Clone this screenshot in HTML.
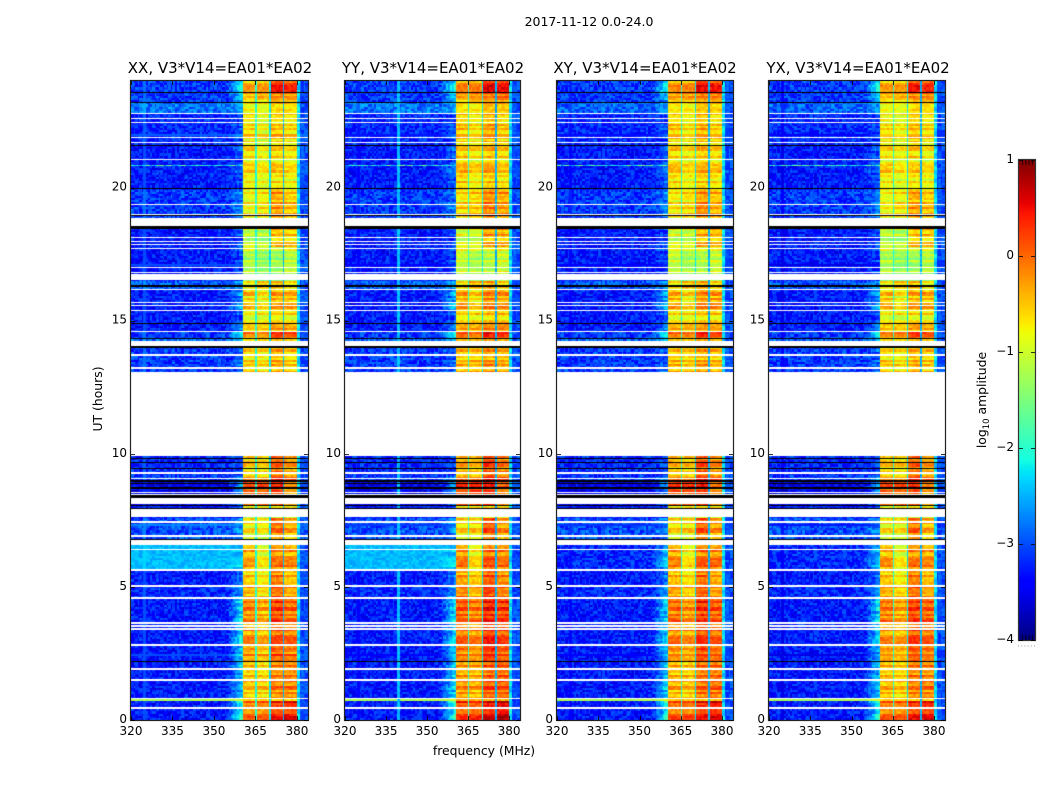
<!DOCTYPE html>
<html lang="en">
<head>
<meta charset="utf-8">
<title>2017-11-12 0.0-24.0 dynamic spectra</title>
<style>
  html, body { margin: 0; padding: 0; background: #fff; }
  #figure { position: relative; width: 1050px; height: 800px; overflow: hidden; background: #fff; }
  #figure canvas { position: absolute; display: block; }
  #overlay { position: absolute; left: 0; top: 0; }
  #overlay text { font-family: "DejaVu Sans", "Liberation Sans", sans-serif; fill: #000; }
  .tick { font-size: 12px; }
  .title { font-size: 15px; }
  .label { font-size: 12.4px; }
</style>
</head>
<body>
<div id="figure">
  <canvas id="colorbar-canvas"></canvas>
  <svg id="overlay" width="1050" height="800" xmlns="http://www.w3.org/2000/svg">
    <text x="589" y="26" text-anchor="middle" class="label" style="font-size:12.5px">2017-11-12 0.0-24.0</text>
    <text x="220" y="73" text-anchor="middle" class="title">XX, V3*V14=EA01*EA02</text>
    <text x="433" y="73" text-anchor="middle" class="title">YY, V3*V14=EA01*EA02</text>
    <text x="645" y="73" text-anchor="middle" class="title">XY, V3*V14=EA01*EA02</text>
    <text x="858" y="73" text-anchor="middle" class="title">YX, V3*V14=EA01*EA02</text>
    <text x="484" y="755" text-anchor="middle" class="label">frequency (MHz)</text>
    <text transform="translate(102,399) rotate(-90)" text-anchor="middle" class="label">UT (hours)</text>
    <text transform="translate(986,400) rotate(-90)" text-anchor="middle" class="label">log<tspan dy="3" style="font-size:8.5px">10</tspan><tspan dy="-3"> amplitude</tspan></text>
  </svg>
</div>
<script>
// ---- chart data (log10 amplitude) ----
const panelNames = ['xx', 'yy', 'xy', 'yx'];
const xTicks = [320, 335, 350, 365, 380];
const yTicks = [0, 5, 10, 15, 20];
const colorbarTicks = [-4, -3, -2, -1, 0, 1];

// Upper UT edge of each observing segment (each runs down to the next edge)
const segmentTop = [24, 23.58, 23.19, 22.8, 21.58, 19.96, 18.46, 17.8, 16.51, 16.17, 15.38, 14.9, 14.6, 14.33, 14, 9.91, 9.23, 8.97, 8.11, 7.62, 6.57, 5.65, 5.03, 4.58, 3.64, 2.81, 2.18, 0.78, 0.72];
const backgroundParallel = [-3.1, -3.1, -2.8, -3.2, -3.28, -3.1, -3.28, -3.28, -2.9, -3.28, -3.28, -3.28, -3.1, -2.85, -3.1, -3.2, -3.1, -3.45, -3.28, -3, -2.45, -3.28, -3.2, -3.28, -3.28, -3.28, -3.28, -1.2, -3.28];
const backgroundCross = [-3.1, -3.1, -2.9, -3.2, -3.28, -3.1, -3.28, -3.28, -2.95, -3.28, -3.28, -3.28, -3.1, -2.9, -3.1, -3.2, -3.1, -3.45, -3.28, -3, -3.2, -3.28, -3.2, -3.28, -3.28, -3.28, -3.28, -1.2, -3.28];
const shoulderPeak = [-2.1, -2.3, -2.5, -3, -2.9, -2.7, -3, -3, -2.6, -2.5, -2.9, -2.8, -2, -2.6, -2.9, -3.1, -2.6, -2.6, -3.1, -2.7, -2.4, -2.7, -2.5, -2.2, -2.2, -2.3, -2.3, -1.2, -1.9];
const bandA = [-0.4, -0.45, -0.75, -0.7, -0.72, -0.8, -1.1, -1.15, -0.85, -0.55, -0.8, -0.7, -0.1, -0.85, -0.62, -0.62, -0.3, 0, -0.95, -0.8, -0.4, -0.5, -0.35, -0.18, -0.28, -0.28, -0.52, -0.9, -0.05];
const bandB = [-0.4, -0.4, -0.8, -0.85, -0.85, -0.72, -1.15, -1.3, -0.65, -0.8, -0.8, -0.72, -0.15, -0.85, -0.68, -0.7, -0.4, 0, -0.9, -0.8, -0.85, -0.7, -0.55, -0.38, -0.42, -0.4, -0.6, -0.9, -0.05];
const bandC = [0.3, -0.2, -0.55, -0.55, -0.65, -0.32, -0.5, -1.25, -0.55, -0.4, -0.65, -0.5, 0.3, -0.7, -0.45, -0.1, 0.25, 0.15, -0.85, -0.1, -0.2, -0.1, 0.02, 0.12, 0.08, 0.08, -0.18, -0.9, 0.3];
const bandD = [0.2, -0.2, -0.6, -0.7, -0.78, -0.5, -0.55, -1.1, -0.8, -0.45, -0.7, -0.55, 0.15, -0.8, -0.6, -0.4, -0.05, -0.35, -0.8, -0.45, -0.3, -0.4, -0.3, -0.05, -0.08, -0.08, -0.18, -0.9, 0.4];

// Overall brightness change per polarisation, for the day and the early-UT part
const panelBandOffset = [0, 0.15, 0.1, 0];
const panelEarlyOffset = [0, 0.22, 0.1, 0.03];

// Frequency structure in MHz
const bandEdges = [[360.5, 365], [365.5, 370], [370.5, 375], [375.5, 380]];
const gapLevels = [-2.05, -2.25, -2.5];
const shoulderStartMHz = 354.5;
const bandEdgeMHz = 360.5;
const upperEdgeLevel = -2.3;
const upperFloorLevel = -3;
const rfiChannels = [[], [339.5], [], []];
const rfiLevel = -2.45;

// Flagged time ranges [from, to] in UT hours
const whiteFlags = [[22.76, 22.81], [22.57, 22.62], [22.42, 22.47], [21.86, 21.91], [21.67, 21.72], [21.03, 21.08], [19.34, 19.39], [18.97, 19.01], [18.57, 18.87], [18.1, 18.15], [17.95, 18], [17.84, 17.89], [17.69, 17.74], [16.98, 17.03], [16.79, 16.83], [16.51, 16.74], [16.15, 16.2], [15.66, 15.7], [15.55, 15.59], [15.36, 15.41], [14.58, 14.62], [14.03, 14.22], [13.68, 13.73], [13.19, 13.24], [9.91, 13.06], [9.23, 9.31], [9.06, 9.1], [8.54, 8.58], [8.46, 8.5], [8.11, 8.33], [7.62, 7.92], [7.41, 7.46], [6.88, 6.93], [6.57, 6.79], [6.4, 6.44], [5.59, 5.67], [5.01, 5.06], [4.56, 4.61], [3.62, 3.67], [3.51, 3.56], [3.39, 3.44], [2.79, 2.84], [1.88, 1.94], [1.47, 1.53], [0.78, 0.83], [0.42, 0.48]];
const blackFlags = [[23.56, 23.6], [23.16, 23.22], [21.55, 21.61], [19.94, 19.98], [18.93, 18.97], [18.46, 18.57], [16.26, 16.32], [14.88, 14.92], [14.3, 14.36], [13.98, 14.03], [9.81, 9.85], [9.66, 9.7], [9.44, 9.48], [8.94, 9], [8.85, 8.89], [8.68, 8.74], [8.33, 8.44], [8.05, 8.09], [7.92, 7.95], [6.77, 6.81], [2.16, 2.2]];

// Thin interference rows [from, to] in UT hours, level is log10 amplitude
const interferenceRows = [[20.82, 20.86]];
const interferenceLevel = -2.05;

// Estimated cell-to-cell scatter, repeated across the grid
const cellScatter = [0.12, -0.28, 0.31, -0.05, -0.34, 0.2, 0.02, -0.17, 0.37, -0.24, 0.08, -0.36, 0.26, -0.1, 0.15, -0.3, 0.33, 0.04, -0.2, -0.02, 0.28, -0.33, 0.1, 0.22, -0.14, -0.27, 0.35, -0.07, 0.17, -0.38, 0.06, 0.24, -0.22, 0.3, -0.12, -0.31, 0.14, 0.01, -0.26, 0.34, -0.09, 0.19, -0.35, 0.27, -0.04, 0.09, -0.19, 0.32, -0.29, 0.05, 0.21, -0.15, -0.37, 0.29, 0.03, -0.23, 0.13, 0.36, -0.11, -0.32, 0.18];
const rowStripes = [0.18, -0.2, 0.3, -0.12, 0.05, -0.3, 0.24, 0.1, -0.18, 0.34, -0.26, 0.02, 0.2, -0.34, 0.14, -0.06, 0.28, -0.22, 0.08, 0.36, -0.14, -0.28, 0.22, 0.04, -0.1, 0.32, -0.24, 0.12, -0.04, 0.26, -0.32, 0.16, -0.16, 0.06, 0.3, -0.08, -0.36];

// ---- layout ----
const frames = [
  { left: 131, right: 308 },
  { left: 345, right: 520 },
  { left: 557, right: 733 },
  { left: 769, right: 945 }
];
const plotTop = 81, plotBottom = 720;
const utMin = 0, utMax = 24, freqMin = 320, freqMax = 384;
const colMHz = 0.5, rowHours = 0.08;
const cbLeft = 1019, cbRight = 1035, cbTop = 160, cbBottom = 640;
const cMin = -4, cMax = 1;

// ---- scales ----
function xScale(frame, mhz) { return frame.left + (mhz - freqMin) / (freqMax - freqMin) * (frame.right - frame.left); }
function yScale(ut) { return plotBottom - (ut - utMin) / (utMax - utMin) * (plotBottom - plotTop); }
function cScale(v) { return cbBottom - (v - cMin) / (cMax - cMin) * (cbBottom - cbTop); }

function ramp(t, stops) {
  for (let i = 1; i < stops.length; i++) {
    if (t <= stops[i][0]) {
      const a = stops[i - 1], b = stops[i];
      return a[1] + (b[1] - a[1]) * (t - a[0]) / (b[0] - a[0]);
    }
  }
  return stops[stops.length - 1][1];
}
const jetR = [[0, 0], [0.35, 0], [0.66, 1], [0.89, 1], [1, 0.5]];
const jetG = [[0, 0], [0.125, 0], [0.375, 1], [0.64, 1], [0.91, 0], [1, 0]];
const jetB = [[0, 0.5], [0.11, 1], [0.34, 1], [0.65, 0], [1, 0]];
function colorOf(v) {
  const t = Math.max(0, Math.min(1, (v - cMin) / (cMax - cMin)));
  return 'rgb(' + Math.round(255 * ramp(t, jetR)) + ',' + Math.round(255 * ramp(t, jetG)) + ',' + Math.round(255 * ramp(t, jetB)) + ')';
}

function segmentIndex(ut) {
  let idx = 0;
  for (let i = 0; i < segmentTop.length; i++) { if (ut < segmentTop[i]) idx = i; }
  return idx;
}

function cellValue(p, seg, ut, mhz, r, c) {
  const cellC = Math.floor(c / 1.5);
  const scatter = cellScatter[((cellC + 2) * (r + 3) * 7 + cellC * 13 + r * 5 + p * 11) % cellScatter.length];
  const stripe = rowStripes[(r * r * r + r * 5) % rowStripes.length];
  const isCross = p >= 2;
  const offset = ut < 5.6 ? panelEarlyOffset[p] : panelBandOffset[p];
  const levels = [bandA[seg], bandB[seg], bandC[seg], bandD[seg]];
  for (let b = 0; b < bandEdges.length; b++) {
    if (mhz >= bandEdges[b][0] && mhz < bandEdges[b][1]) {
      return levels[b] + offset + stripe * 0.9 + scatter * 0.45;
    }
  }
  if (mhz >= 365 && mhz < 365.5) return gapLevels[0] + scatter * 0.3;
  if (mhz >= 370 && mhz < 370.5) return gapLevels[1] + scatter * 0.3;
  if (mhz >= 375 && mhz < 375.5) return gapLevels[2] + scatter * 0.3;
  if (mhz >= 380) {
    const edge = mhz < 381 ? upperEdgeLevel : upperFloorLevel;
    return edge + scatter * 0.6;
  }
  for (const rfi of rfiChannels[p]) {
    if (Math.abs(mhz - rfi) < 0.3) return rfiLevel + scatter * 0.3;
  }
  const bg = isCross ? backgroundCross[seg] : backgroundParallel[seg];
  const noiseScale = bg > -2.6 ? 0.4 : 0.9;
  if (mhz >= shoulderStartMHz && mhz < bandEdgeMHz) {
    const f = (mhz - shoulderStartMHz) / (bandEdgeMHz - shoulderStartMHz);
    return bg + (Math.max(shoulderPeak[seg], bg) - bg) * f + stripe * 0.9 * f + scatter * noiseScale * (1 - 0.4 * f);
  }
  return bg + scatter * noiseScale;
}

function fillRows(ctx, width, ranges) {
  ranges.forEach(function (f) {
    const top = Math.round(yScale(f[1])) - plotTop;
    const bottom = Math.round(yScale(f[0])) - plotTop;
    ctx.fillRect(0, top, width, Math.max(1, bottom - top));
  });
}

function drawPanel(p) {
  const frame = frames[p];
  const canvas = document.createElement('canvas');
  
  
  canvas.width = frame.right - frame.left;
  canvas.height = plotBottom - plotTop;
  canvas.style.left = frame.left + 'px';
  canvas.style.top = plotTop + 'px';
  document.getElementById('figure').insertBefore(canvas, document.getElementById('overlay'));
  const ctx = canvas.getContext('2d');
  const nRows = Math.round((utMax - utMin) / rowHours);
  const nCols = Math.round((freqMax - freqMin) / colMHz);
  for (let r = 0; r < nRows; r++) {
    const ut = utMin + r * rowHours;
    const seg = segmentIndex(ut + rowHours / 2);
    const y0 = Math.round(yScale(ut + rowHours)) - plotTop;
    const y1 = Math.round(yScale(ut)) - plotTop;
    for (let c = 0; c < nCols; c++) {
      const mhz = freqMin + c * colMHz;
      const x0 = Math.round(xScale(frame, mhz)) - frame.left;
      const x1 = Math.round(xScale(frame, mhz + colMHz)) - frame.left;
      ctx.fillStyle = colorOf(cellValue(p, seg, ut + rowHours / 2, mhz + colMHz / 2, r, c));
      ctx.fillRect(x0, y0, x1 - x0, y1 - y0);
    }
  }
  interferenceRows.forEach(function (f) {
    const top = Math.round(yScale(f[1])) - plotTop;
    for (let c = 0; c < (bandEdgeMHz - freqMin) / colMHz; c++) {
      const mhz = freqMin + c * colMHz;
      const x0 = Math.round(xScale(frame, mhz)) - frame.left;
      const x1 = Math.round(xScale(frame, mhz + colMHz)) - frame.left;
      ctx.fillStyle = colorOf(interferenceLevel + cellScatter[(c * 3 + p) % cellScatter.length] * 2);
      ctx.fillRect(x0, top, x1 - x0, 1);
    }
  });
  ctx.fillStyle = '#fff';
  fillRows(ctx, canvas.width, whiteFlags);
  ctx.fillStyle = '#000';
  fillRows(ctx, canvas.width, blackFlags);
}

// ---- axes ----
const svg = document.getElementById('overlay');
const NS = 'http://www.w3.org/2000/svg';
function line(x1, y1, x2, y2, color, w) {
  const el = document.createElementNS(NS, 'line');
  el.setAttribute('x1', x1);
  el.setAttribute('y1', y1);
  el.setAttribute('x2', x2);
  el.setAttribute('y2', y2);
  el.setAttribute('stroke', color);
  el.setAttribute('stroke-width', w);
  svg.appendChild(el);
  return el;
}
function label(x, y, str, anchor) {
  const el = document.createElementNS(NS, 'text');
  el.setAttribute('x', x);
  el.setAttribute('y', y);
  el.setAttribute('text-anchor', anchor);
  el.setAttribute('class', 'tick');
  el.textContent = str;
  svg.appendChild(el);
  return el;
}

function drawAxes(p) {
  const frame = frames[p];
  const box = document.createElementNS(NS, 'rect');
  
  
  box.setAttribute('x', frame.left - 0.5);
  box.setAttribute('y', plotTop - 0.5);
  box.setAttribute('width', frame.right - frame.left + 1);
  box.setAttribute('height', plotBottom - plotTop + 1);
  box.setAttribute('fill', 'none');
  box.setAttribute('stroke', '#222');
  box.setAttribute('stroke-width', '1.2');
  svg.appendChild(box);
  xTicks.forEach(function (v) {
    const x = Math.round(xScale(frame, v)) + 0.5;
    const bottomTick = line(x, plotBottom, x, plotBottom - 4, '#000', 0.8);
    
    
    const topTick = line(x, plotTop, x, plotTop + 4, '#000', 0.8);
    
    
    const text = label(xScale(frame, v), plotBottom + 15, String(v), 'middle');
    
    
  });
  yTicks.forEach(function (v) {
    const y = Math.round(yScale(v)) + 0.5;
    const leftTick = line(frame.left, y, frame.left + 4, y, '#000', 0.8);
    
    
    const rightTick = line(frame.right, y, frame.right - 4, y, '#000', 0.8);
    
    
    const text = label(frame.left - 4, yScale(v) + 3, String(v), 'end');
    
    
  });
}

function drawColorbar() {
  const canvas = document.getElementById('colorbar-canvas');
  canvas.width = cbRight - cbLeft;
  canvas.height = cbBottom - cbTop;
  canvas.style.left = cbLeft + 'px';
  canvas.style.top = cbTop + 'px';
  const ctx = canvas.getContext('2d');
  for (let y = 0; y < canvas.height; y++) {
    const v = cMax - (y + 0.5) / canvas.height * (cMax - cMin);
    ctx.fillStyle = colorOf(v);
    ctx.fillRect(0, y, canvas.width, 1);
  }
  const box = document.createElementNS(NS, 'rect');
  
  
  box.setAttribute('x', cbLeft - 0.5);
  box.setAttribute('y', cbTop - 0.5);
  box.setAttribute('width', cbRight - cbLeft + 1);
  box.setAttribute('height', cbBottom - cbTop + 1);
  box.setAttribute('fill', 'none');
  box.setAttribute('stroke', '#333');
  box.setAttribute('stroke-width', '1.2');
  svg.appendChild(box);
  colorbarTicks.forEach(function (v) {
    const y = Math.round(cScale(v)) + 0.5;
    const leftTick = line(cbLeft, y, cbLeft + 4, y, '#000', 0.8);
    
    
    const rightTick = line(cbRight, y, cbRight - 4, y, '#000', 0.8);
    
    
    const text = label(cbLeft - 5, cScale(v) + 3, String(v).replace('-', '\u2212'), 'end');
    
    
  });
  for (let i = 0; i < 6; i++) {
    const x = cbLeft + 0.5 + i * (cbRight - cbLeft) / 5;
    if (i > 0 && i < 5) {
      const up = line(x, cbTop, x, cbTop + 5, '#000', 0.7);
      
      
      const down = line(x, cbBottom, x, cbBottom - 5, '#000', 0.7);
      
      
    }
    const dot = line(x - 1.5, cbBottom + 6, x - 0.5, cbBottom + 6, '#999', 1);
    
    
  }
}

panelNames.forEach(function (name, p) { drawPanel(p); });
panelNames.forEach(function (name, p) { drawAxes(p); });
drawColorbar();
</script>
</body>
</html>
